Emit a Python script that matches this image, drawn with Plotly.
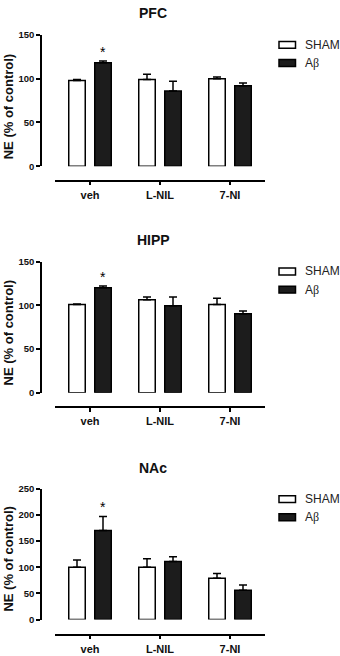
import plotly.graph_objects as go

W, H = 340, 656

# ---- data ----
groups = ["veh", "L-NIL", "7-NI"]
panels = ["PFC", "HIPP", "NAc"]
sham_vals = {"PFC": [98, 99, 100], "HIPP": [101, 106.5, 101], "NAc": [100, 100, 79]}
sham_err = {"PFC": [1, 6, 2], "HIPP": [0.5, 3, 7], "NAc": [14, 16, 9]}
ab_vals = {"PFC": [118, 86, 92], "HIPP": [120, 99.5, 90.5], "NAc": [170, 111, 56]}
ab_err = {"PFC": [2, 11, 3], "HIPP": [2, 10, 3], "NAc": [27, 9, 10]}
y_max = {"PFC": 150, "HIPP": 150, "NAc": 250}
y_title = "NE (% of control)"
sig_marker = "*"

# ---- layout geometry (pixels) ----
geom = {
    "PFC": dict(y0=163, y1=29.3, xax=177.7, title=7.5, ytitle=102.5, leg=(39.5, 58)),
    "HIPP": dict(y0=393.3, y1=260, xax=407.7, title=238, ytitle=332.5, leg=(270, 288.5)),
    "NAc": dict(y0=624, y1=491, xax=639.3, title=470, ytitle=562.5, leg=(501.5, 520)),
}

def px_x(x):
    return x / W

def px_y(y):
    return 1 - y / H

FONT = "Arial, Liberation Sans, sans-serif"
TXT = "#111111"

fig = go.Figure()
layout = dict(
    width=W, height=H, margin=dict(l=0, r=0, t=0, b=0),
    paper_bgcolor="white", plot_bgcolor="white",
    barmode="group", bargap=0.257, bargroupgap=0.365,
    showlegend=False, font=dict(family=FONT, color=TXT),
)
annotations = []
shapes = []

for i, p in enumerate(panels):
    n = "" if i == 0 else str(i + 1)
    xa, ya = "x" + n, "y" + n
    g = geom[p]
    fig.add_trace(go.Bar(
        x=groups, y=sham_vals[p], name="SHAM", xaxis=xa, yaxis=ya,
        marker=dict(color="white", line=dict(color="black", width=1.5)),
        error_y=dict(type="data", symmetric=False, array=sham_err[p], arrayminus=[0] * 3,
                     color="black", thickness=1.5, width=4),
    ))
    fig.add_trace(go.Bar(
        x=groups, y=ab_vals[p], name="Aβ", xaxis=xa, yaxis=ya,
        marker=dict(color="#1c1c1c", line=dict(color="black", width=1.5)),
        error_y=dict(type="data", symmetric=False, array=ab_err[p], arrayminus=[0] * 3,
                     color="black", thickness=1.5, width=4),
    ))
    layout["xaxis" + n] = dict(
        type="category", range=[-0.5, 2.5], domain=[px_x(55), px_x(265)],
        anchor="free", position=px_y(g["xax"]),
        showline=True, linecolor="black", linewidth=1.5,
        ticks="outside", ticklen=4, tickwidth=1.5, tickcolor="black",
        tickfont=dict(family=FONT, size=11, color=TXT, weight="bold"),
        showgrid=False, zeroline=False, fixedrange=True,
    )
    layout["yaxis" + n] = dict(
        range=[0, y_max[p]], dtick=50, domain=[px_y(g["y0"]), px_y(g["y1"])],
        anchor="free", position=px_x(41),
        showline=True, linecolor="black", linewidth=1.5,
        ticks="outside", ticklen=4, tickwidth=1.5, tickcolor="black",
        tickfont=dict(family=FONT, size=9.5, color=TXT, weight="bold"),
        showgrid=False, zeroline=False, fixedrange=True,
    )
    # panel title
    annotations.append(dict(
        text="<b>%s</b>" % p, xref="paper", yref="paper", x=px_x(153), y=px_y(g["title"]),
        xanchor="center", yanchor="middle", showarrow=False,
        font=dict(family=FONT, size=14, color=TXT),
    ))
    # y title
    annotations.append(dict(
        text="<b>%s</b>" % y_title, xref="paper", yref="paper", x=px_x(8.5), y=px_y(g["ytitle"]),
        xanchor="center", yanchor="middle", showarrow=False, textangle=-90,
        font=dict(family=FONT, size=13, color=TXT),
    ))
    # significance marker on Aβ veh
    annotations.append(dict(
        text=sig_marker, xref=xa, yref=ya, x=groups[0], y=ab_vals[p][0] + ab_err[p][0],
        xanchor="center", yanchor="bottom", xshift=13, yshift=-1, showarrow=False,
        font=dict(family=FONT, size=14, color="black"),
    ))
    # legend
    for name, fill, yc in [("SHAM", "white", g["leg"][0]),
                           ("A<span style='font-family:Liberation Serif, serif'>β</span>", "#1c1c1c", g["leg"][1])]:
        shapes.append(dict(
            type="rect", xref="paper", yref="paper",
            x0=px_x(279), x1=px_x(295.5), y0=px_y(yc + 3.5), y1=px_y(yc - 3.5),
            fillcolor=fill, line=dict(color="black", width=1.5),
        ))
        annotations.append(dict(
            text=name, xref="paper", yref="paper", x=px_x(303), y=px_y(yc),
            xanchor="left", yanchor="middle", showarrow=False,
            font=dict(family=FONT, size=12, color="#222222"),
        ))

layout["annotations"] = annotations
layout["shapes"] = shapes
fig.update_layout(**layout)
fig.write_html(
    "out.html",
    config={"displayModeBar": False},
    post_script="document.body.style.margin='0';document.body.style.padding='0';"
                "document.body.style.overflow='hidden';",
)
